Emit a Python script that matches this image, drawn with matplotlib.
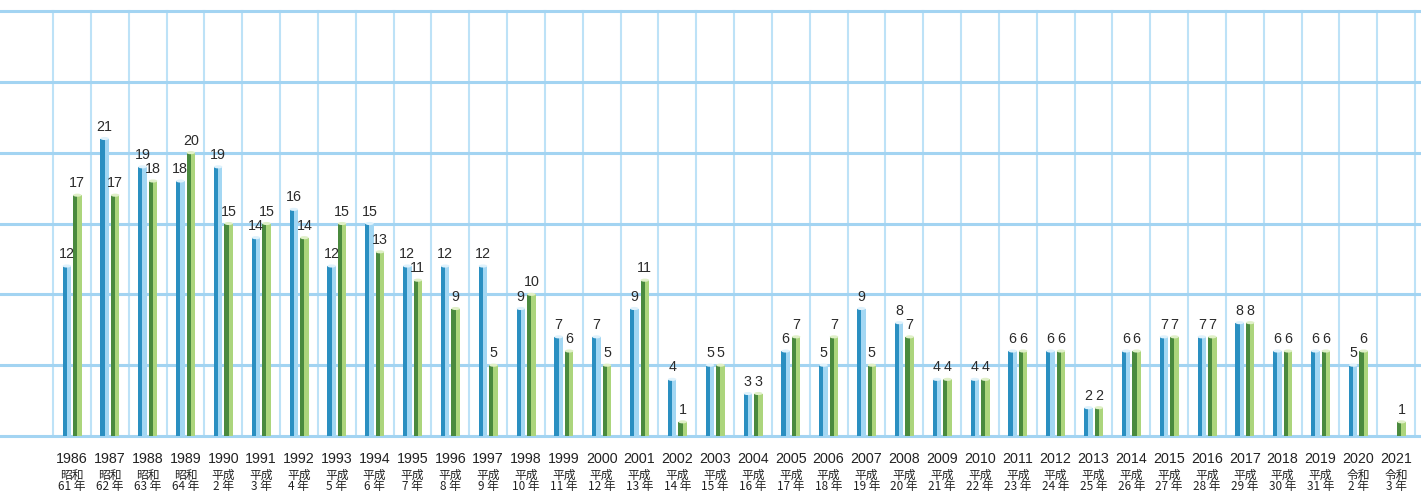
import matplotlib
matplotlib.use("Agg")
import matplotlib.pyplot as plt
from matplotlib.patches import Ellipse
from matplotlib.transforms import blended_transform_factory

years = ["1986", "1987", "1988", "1989", "1990", "1991", "1992", "1993", "1994",
         "1995", "1996", "1997", "1998", "1999", "2000", "2001", "2002", "2003",
         "2004", "2005", "2006", "2007", "2008", "2009", "2010", "2011", "2012",
         "2013", "2014", "2015", "2016", "2017", "2018", "2019", "2020", "2021"]
era_names = ["昭和", "昭和", "昭和", "昭和"] + ["平成"] * 30 + ["令和", "令和"]
era_years = ["61 年", "62 年", "63 年", "64 年", "2 年", "3 年", "4 年", "5 年", "6 年",
             "7 年", "8 年", "9 年", "10 年", "11 年", "12 年", "13 年", "14 年", "15 年",
             "16 年", "17 年", "18 年", "19 年", "20 年", "21 年", "22 年", "23 年", "24 年",
             "25 年", "26 年", "27 年", "28 年", "29 年", "30 年", "31 年", "2 年", "3 年"]
series_blue = [12, 21, 19, 18, 19, 14, 16, 12, 15, 12, 12, 12, 9, 7, 7, 9, 4, 5,
               3, 6, 5, 9, 8, 4, 4, 6, 6, 2, 6, 7, 7, 8, 6, 6, 5, None]
series_green = [17, 17, 18, 20, 15, 15, 14, 15, 13, 11, 9, 5, 10, 6, 5, 11, 1, 5,
                3, 7, 7, 5, 7, 4, 4, 6, 6, 2, 6, 7, 7, 8, 6, 6, 6, 1]

W, H = 1421, 492
fig = plt.figure(figsize=(W / 100, H / 100), dpi=100)
ax = fig.add_axes([0, 1 - 436 / H, 1, 436 / H])
cell = (1415 - 53) / 36
ax.set_xlim(-53 / cell, (W - 53) / cell)
ax.set_ylim(0, 30 * 436 / 425)
ax.axis("off")

n = len(years)
# grid
for k in range(n + 1):
    ax.plot([k, k], [0, 30], color="#bde2f7", lw=1.5, zorder=1, clip_on=False)
for v in range(0, 31, 5):
    ax.axhline(v, color="#a3d4f2", lw=2.2, zorder=1.5, clip_on=False)

bw = 0.225
styles = [
    (series_blue, -0.135, "#2a8fc1", "#a3d7f3", "#dff2fc"),
    (series_green, 0.143, "#4a8a3e", "#acd57c", "#e0f0c8"),
]
for vals, off, dark, light, cap in styles:
    for i, v in enumerate(vals):
        if v is None:
            continue
        xc = i + 0.5 + off
        ax.bar(xc - bw / 2, v, width=bw / 2, align="edge", color=dark, lw=0, zorder=3)
        ax.bar(xc, v, width=bw / 2, align="edge", color=light, lw=0, zorder=3)
        ax.add_patch(Ellipse((xc, v), bw, 0.22, color=cap, lw=0, zorder=4))
        ax.annotate(str(v), (xc, v), xytext=(0, 3.5), textcoords="offset points",
                    ha="center", va="bottom", fontsize=10.3, color="#2a2a2a",
                    family="Liberation Sans", zorder=5)

tr = blended_transform_factory(ax.transData, fig.transFigure)
for i in range(n):
    xc = i + 0.5
    fig.text(xc, 1 - 459 / H, years[i], transform=tr, ha="center", va="center",
             fontsize=10.3, color="#222222", family="Liberation Sans")
    fig.text(xc, 1 - 475 / H, era_names[i], transform=tr, ha="center", va="center",
             fontsize=8.5, color="#222222", family=["Noto Sans CJK JP", "DejaVu Sans"])
    fig.text(xc, 1 - 486.5 / H, era_years[i], transform=tr, ha="center", va="center",
             fontsize=8.5, color="#222222", family=["Noto Sans CJK JP", "DejaVu Sans"])

fig.savefig("out.png", dpi=100)
